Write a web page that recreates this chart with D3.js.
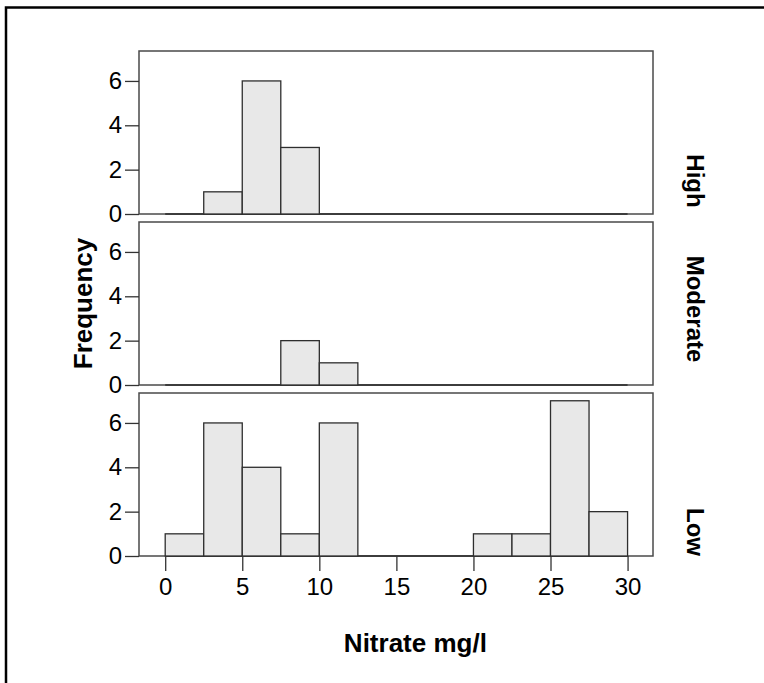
<!DOCTYPE html>
<html>
<head>
<meta charset="utf-8">
<script src="https://cdn.jsdelivr.net/npm/d3@7"></script>
<style>
  html, body { margin: 0; padding: 0; background: #fff; overflow: hidden; }
  svg { display: block; }
</style>
</head>
<body>
<script>
// ---- data ----
const binEdges = [0, 2.5, 5, 7.5, 10, 12.5, 15, 17.5, 20, 22.5, 25, 27.5, 30];
const panels = ["High", "Moderate", "Low"];
const highCounts     = [0, 1, 6, 3, 0, 0, 0, 0, 0, 0, 0, 0];
const moderateCounts = [0, 0, 0, 2, 1, 0, 0, 0, 0, 0, 0, 0];
const lowCounts      = [1, 6, 4, 1, 6, 0, 0, 0, 1, 1, 7, 2];
const xTicks = [0, 5, 10, 15, 20, 25, 30];
const yTicks = [0, 2, 4, 6];
const xTitle = "Nitrate mg/l";
const yTitle = "Frequency";

const countsByPanel = [highCounts, moderateCounts, lowCounts];

// ---- layout ----
const W = 764, H = 683;
const plotLeft = 139, plotRight = 653;
const panelTop0 = 51, panelH = 163, panelStep = 171;
const labelCenters = [181, 309, 532];
const FONT = "Liberation Sans, Arial, Helvetica, sans-serif";

const svg = d3.select("body").append("svg").attr("width", W).attr("height", H);

// outer frame (only top and left edges are visible)
svg.append("path").attr("d", `M${W + 20},7.5 H6 V${H + 20}`)
  .attr("fill", "none").attr("stroke", "#000").attr("stroke-width", 2.5);

const x = d3.scaleLinear().domain([-1.7, 31.65]).range([plotLeft, plotRight]);

panels.forEach((name, i) => {
  const top = panelTop0 + i * panelStep;
  const y = d3.scaleLinear().domain([0, 7.35]).range([top + panelH, top]);
  const g = svg.append("g");
  const counts = countsByPanel[i];

  // panel frame
  g.append("rect").attr("x", plotLeft).attr("y", top)
    .attr("width", plotRight - plotLeft).attr("height", panelH)
    .attr("fill", "#fff").attr("stroke", "#4a4a4a").attr("stroke-width", 1.5);

  // zero baseline across the data range
  g.append("line").attr("x1", x(binEdges[0])).attr("x2", x(binEdges[binEdges.length - 1]))
    .attr("y1", y(0)).attr("y2", y(0)).attr("stroke", "#2a2a2a").attr("stroke-width", 1.6);

  // bars
  const bins = counts.map((c, k) => ({ x0: binEdges[k], x1: binEdges[k + 1], c }))
    .filter(d => d.c > 0);
  g.selectAll("rect.bar").data(bins).join("rect").attr("class", "bar")
    .attr("x", d => x(d.x0)).attr("width", d => x(d.x1) - x(d.x0))
    .attr("y", d => y(d.c)).attr("height", d => y(0) - y(d.c))
    .attr("fill", "#e8e8e8").attr("stroke", "#2e2e2e").attr("stroke-width", 1.3);

  // y axis
  const ya = g.append("g").attr("transform", `translate(${plotLeft},0)`)
    .call(d3.axisLeft(y).tickValues(yTicks).tickSize(14).tickPadding(3).tickFormat(d3.format("d")));
  ya.select(".domain").remove();
  ya.selectAll(".tick line").attr("stroke", "#333").attr("stroke-width", 1.3);
  ya.selectAll(".tick text").attr("font-family", FONT)
    .attr("font-size", 24).attr("fill", "#000");

  // right label
  svg.append("text")
    .attr("transform", `translate(687,${labelCenters[i]}) rotate(90)`)
    .attr("text-anchor", "middle")
    .attr("font-family", FONT)
    .attr("font-weight", "bold").attr("font-size", 24).attr("fill", "#000")
    .text(name);

  if (i === panels.length - 1) {
    const xa = g.append("g").attr("transform", `translate(0,${top + panelH})`)
      .call(d3.axisBottom(x).tickValues(xTicks).tickSize(15).tickPadding(7).tickFormat(d3.format("d")));
    xa.select(".domain").remove();
    xa.selectAll(".tick line").attr("stroke", "#333").attr("stroke-width", 1.3);
    xa.selectAll(".tick text").attr("font-family", FONT)
      .attr("font-size", 24).attr("fill", "#000");
  }
});

// axis titles
svg.append("text").attr("x", (x(0) + x(30)) / 2 + 19).attr("y", 652)
  .attr("text-anchor", "middle")
  .attr("font-family", FONT)
  .attr("font-weight", "bold").attr("font-size", 26).attr("fill", "#000")
  .text(xTitle);

svg.append("text")
  .attr("transform", `translate(92,${panelTop0 + (2 * panelStep + panelH) / 2}) rotate(-90)`)
  .attr("text-anchor", "middle")
  .attr("font-family", FONT)
  .attr("font-weight", "bold").attr("font-size", 26).attr("fill", "#000")
  .text(yTitle);
</script>
</body>
</html>
